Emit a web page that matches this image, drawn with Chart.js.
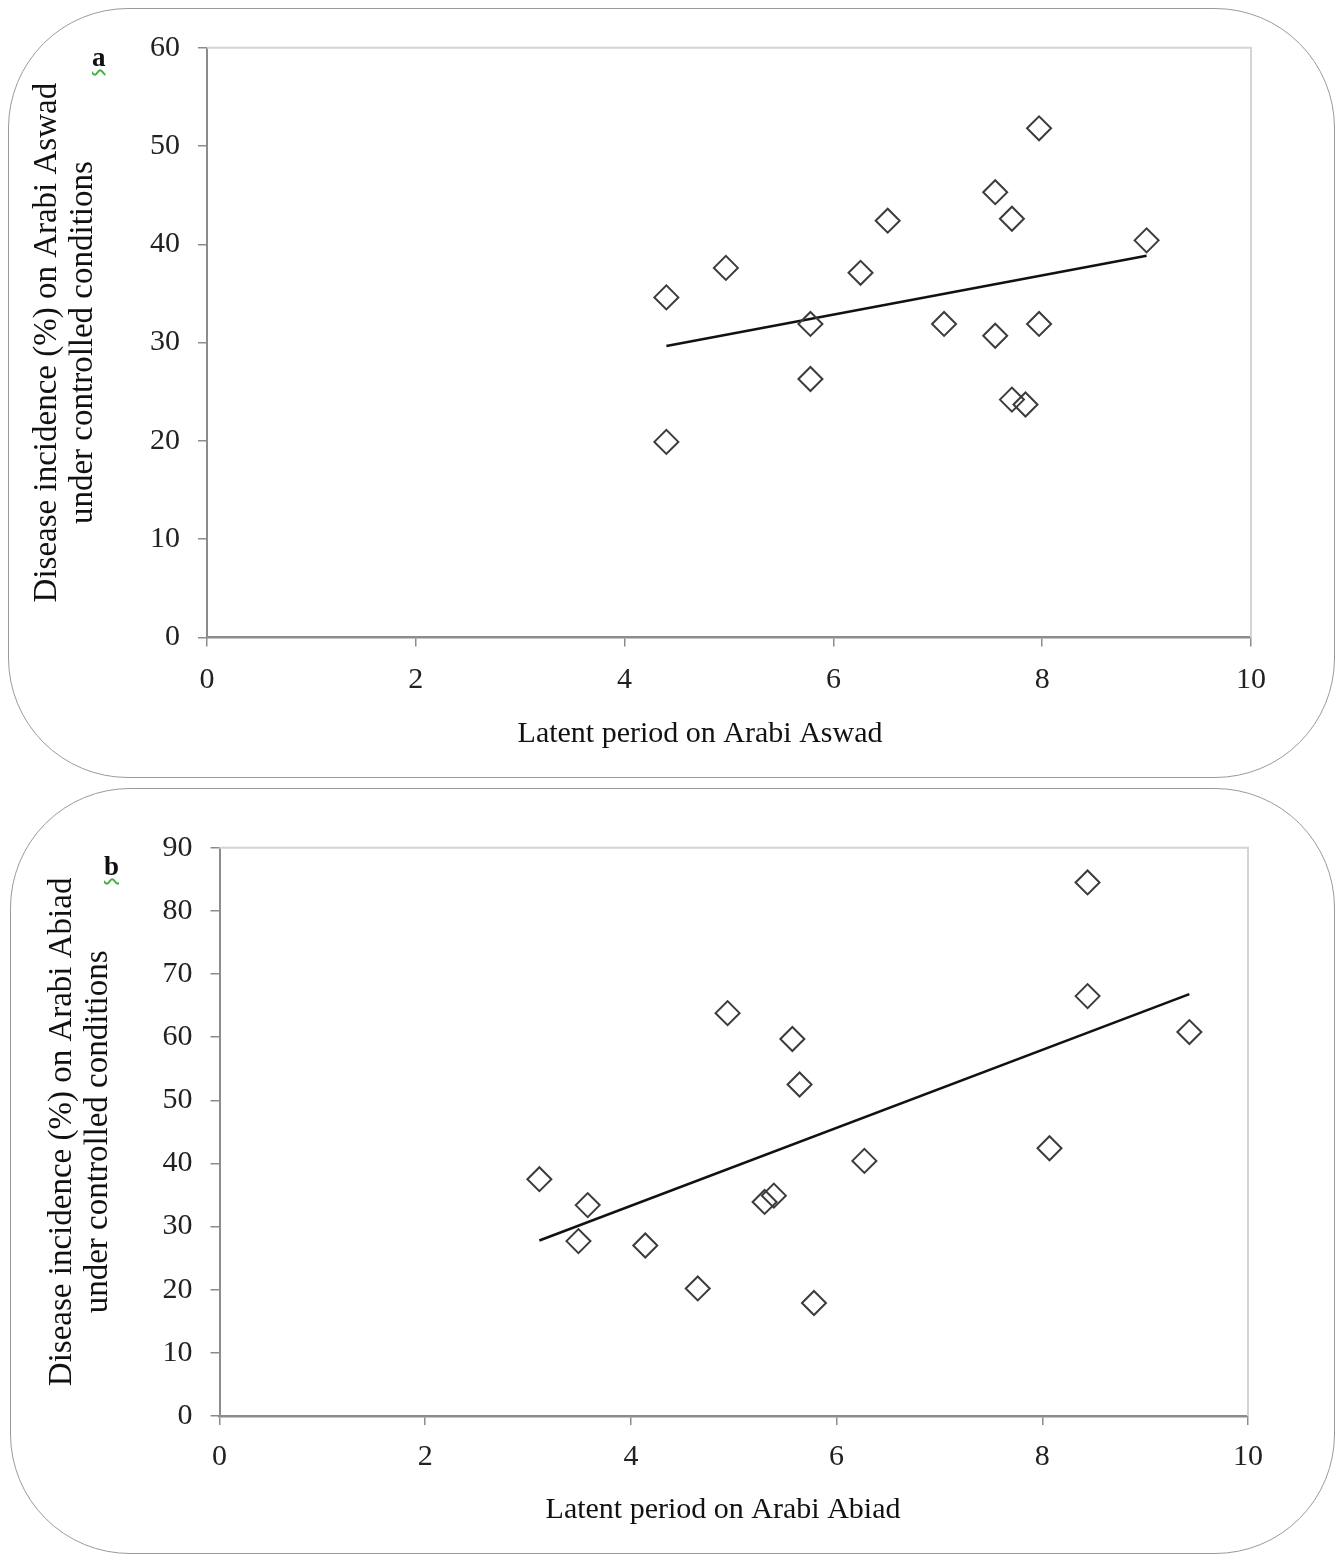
<!DOCTYPE html>
<html>
<head>
<meta charset="utf-8">
<script src="https://cdn.jsdelivr.net/npm/chart.js@4.4.1/dist/chart.umd.min.js"></script>
<style>
  body { margin: 0; background: #fff; }
  #page { position: relative; width: 1338px; height: 1556px; overflow: hidden; }
  .panel { position: absolute; border: 1.5px solid #9a9a9a; border-radius: 120px; box-sizing: border-box; }
  canvas { position: absolute; left: 0; }
  .tag { position: absolute; font-family: "Liberation Serif", serif; font-size: 27px; font-weight: bold; color: #111; line-height: 27px;
         text-decoration: underline wavy #3cae3c; text-decoration-thickness: 1.5px; text-underline-offset: 3px; }
</style>
</head>
<body>
<div id="page">
  <div class="panel" style="left:8px; top:8px; width:1327px; height:770px;"></div>
  <div class="panel" style="left:10px; top:788px; width:1325px; height:766px;"></div>
  <canvas id="chartA" width="1338" height="780" style="top:0px;"></canvas>
  <canvas id="chartB" width="1338" height="776" style="top:780px;"></canvas>
  <div class="tag" style="left:92px; top:44px;">a</div>
  <div class="tag" style="left:104px; top:853px;">b</div>
</div>
<script>
// panel a - Arabi Aswad
const aswadLatent = [4.40, 4.40, 4.97, 5.78, 5.78, 6.26, 6.52, 7.06, 7.55, 7.55, 7.71, 7.71, 7.84, 7.97, 7.97, 9.00];
const aswadIncidence = [34.6, 19.9, 37.6, 31.9, 26.3, 37.1, 42.4, 31.9, 45.3, 30.7, 42.6, 24.2, 23.7, 51.8, 31.9, 40.4];
const aswadTrendX = [4.40, 9.00];
const aswadTrendY = [29.65, 38.84];

// panel b - Arabi Abiad
const abiadLatent = [3.11, 3.58, 3.49, 4.14, 4.65, 4.94, 5.30, 5.39, 5.57, 5.64, 5.78, 6.27, 8.07, 8.44, 8.44, 9.43];
const abiadIncidence = [37.5, 33.4, 27.7, 27.0, 20.2, 63.8, 33.9, 34.9, 59.7, 52.5, 17.9, 40.4, 42.4, 84.5, 66.5, 60.8];
const abiadTrendX = [3.11, 9.43];
const abiadTrendY = [27.8, 66.8];

const xTicks = [0, 2, 4, 6, 8, 10];

const FONT = '"Liberation Serif", "DejaVu Serif", serif';

// light frame on top/right of the plot area, like excel
const plotFrame = {
  id: 'plotFrame',
  beforeDatasetsDraw(chart) {
    const {ctx, chartArea: a} = chart;
    ctx.save();
    ctx.strokeStyle = '#d4d4d4';
    ctx.lineWidth = 2;
    ctx.beginPath();
    ctx.moveTo(a.left, a.top);
    ctx.lineTo(a.right, a.top);
    ctx.lineTo(a.right, a.bottom);
    ctx.stroke();
    ctx.restore();
  }
};

// x title is not centred on the plot in the original, so draw it here
const xTitle = {
  id: 'xTitle',
  afterDraw(chart, args, opts) {
    const ctx = chart.ctx;
    ctx.save();
    ctx.font = '30px ' + FONT;
    ctx.fillStyle = '#111';
    ctx.textAlign = 'center';
    ctx.textBaseline = 'middle';
    ctx.fillText(opts.text, opts.x, opts.y);
    ctx.restore();
  }
};

function makePanel(id, xs, ys, tx, ty, yMax, yTitle, xTitleText, p) {
  const pts = xs.map((x, i) => ({x: x, y: ys[i]}));
  const trend = tx.map((x, i) => ({x: x, y: ty[i]}));
  new Chart(document.getElementById(id), {
    type: 'scatter',
    data: {
      datasets: [{
        data: pts,
        pointStyle: 'rectRot',
        pointRadius: 12,
        pointBorderWidth: 2,
        pointBorderColor: '#3c3c3c',
        pointBackgroundColor: 'rgba(255,255,255,0)'
      }, {
        type: 'line',
        data: trend,
        borderColor: '#111',
        borderWidth: 2.5,
        pointRadius: 0,
        fill: false
      }]
    },
    options: {
      responsive: false,
      animation: false,
      devicePixelRatio: 1,
      layout: { padding: { left: 0, top: p.top, right: p.right, bottom: 0 } },
      plugins: {
        legend: { display: false },
        tooltip: { enabled: false },
        xTitle: { text: xTitleText, x: p.xTitleX, y: p.xTitleY }
      },
      scales: {
        x: {
          type: 'linear', min: 0, max: 10,
          afterBuildTicks: (s) => { s.ticks = xTicks.map(v => ({value: v})); },
          afterFit: (s) => { s.height = p.xHeight; },
          border: { display: true, color: '#8c8c8c', width: 2.5 },
          grid: { drawOnChartArea: false, drawTicks: true, tickLength: 9, color: '#8c8c8c', lineWidth: 1.5 },
          ticks: { padding: p.xTickPad, color: '#222', font: { family: FONT, size: 30, lineHeight: 1.2 } },
          title: { display: false }
        },
        y: {
          type: 'linear', min: 0, max: yMax,
          ticks: { stepSize: 10, padding: 18, color: '#222', font: { family: FONT, size: 30, lineHeight: 1.2 } },
          afterFit: (s) => { s.width = p.yWidth; },
          border: { display: true, color: '#8c8c8c', width: 2 },
          grid: { drawOnChartArea: false, drawTicks: true, tickLength: 9, color: '#8c8c8c', lineWidth: 1.5 },
          title: { display: true, text: yTitle, color: '#111', padding: { top: p.yTitlePad, bottom: 0 },
                   font: { family: FONT, size: 33, lineHeight: '36px' } }
        }
      }
    },
    plugins: [plotFrame, xTitle]
  });
}

makePanel('chartA', aswadLatent, aswadIncidence, aswadTrendX, aswadTrendY, 60,
  ['Disease incidence (%) on Arabi Aswad', 'under controlled conditions'],
  'Latent period on Arabi Aswad',
  { top: 47.7, right: 87, xHeight: 142.5, yWidth: 207, xTickPad: 15.5, yTitlePad: 29, xTitleX: 700, xTitleY: 734 });

makePanel('chartB', abiadLatent, abiadIncidence, abiadTrendX, abiadTrendY, 90,
  ['Disease incidence (%) on Arabi Abiad', 'under controlled conditions'],
  'Latent period on Arabi Abiad',
  { top: 67.7, right: 90, xHeight: 140, yWidth: 219.5, xTickPad: 14, yTitlePad: 44, xTitleX: 723, xTitleY: 730 });
</script>
</body>
</html>
